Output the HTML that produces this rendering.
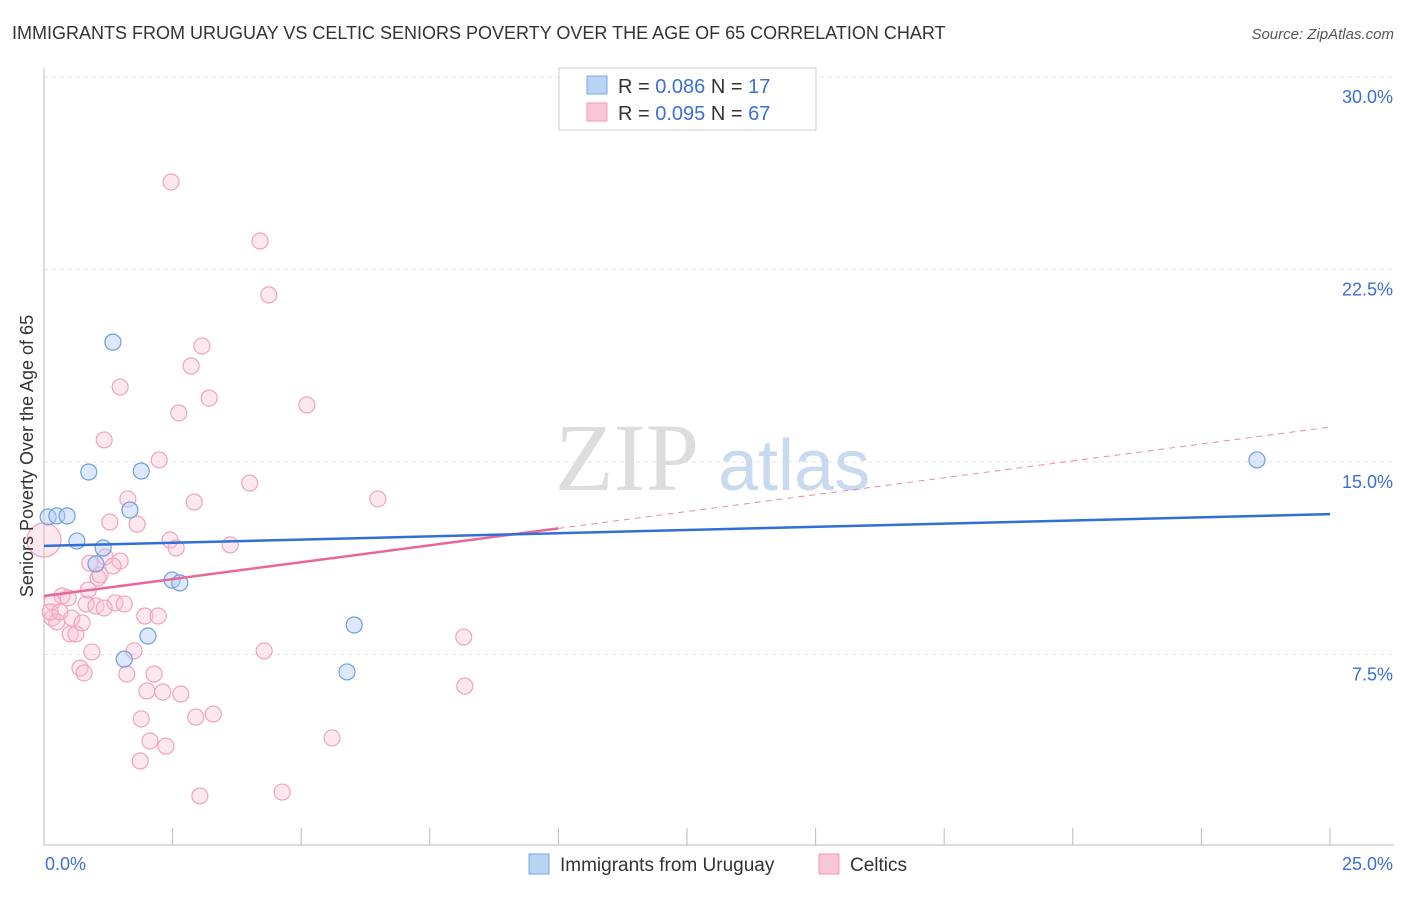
<!DOCTYPE html>
<html><head><meta charset="utf-8">
<style>
body{margin:0;background:#fff;font-family:"Liberation Sans",sans-serif;}
</style></head>
<body>
<svg id="chart" width="1406" height="892" xmlns="http://www.w3.org/2000/svg" font-family="Liberation Sans, sans-serif">
<text x="12" y="39" font-size="18" fill="#333">IMMIGRANTS FROM URUGUAY VS CELTIC SENIORS POVERTY OVER THE AGE OF 65 CORRELATION CHART</text>
<text x="1394" y="39" font-size="15" fill="#555" text-anchor="end" font-style="italic">Source: ZipAtlas.com</text>
<g id="grid"></g>
<g><text x="555" y="490" font-size="96" fill="#ddd" font-family="Liberation Serif, serif">ZIP</text><text x="718" y="490" font-size="72" fill="#c9d9ef">atlas</text></g>
<g id="axes"></g>
<g id="marks"></g>
<text transform="translate(33,456) rotate(-90)" font-size="18" fill="#333" text-anchor="middle">Seniors Poverty Over the Age of 65</text>
<g>
<rect x="559" y="68" width="257" height="62" fill="#fff" stroke="#ccc"/>
<rect x="587" y="76" width="20" height="18" fill="#b9d3f5" stroke="#7aa6e6"/>
<rect x="587" y="103" width="20" height="18" fill="#f9c6d6" stroke="#ee9ab5"/>
<text x="618" y="93" font-size="20" fill="#333">R = <tspan fill="#3b6fd3">0.086</tspan>   N = <tspan fill="#3b6fd3">17</tspan></text>
<text x="618" y="120" font-size="20" fill="#333">R = <tspan fill="#3b6fd3">0.095</tspan>   N = <tspan fill="#3b6fd3">67</tspan></text>
</g>
<g>
<rect x="529" y="854" width="20" height="20" fill="#b9d3f5" stroke="#7aa6e6"/>
<text x="560" y="871" font-size="19" fill="#333">Immigrants from Uruguay</text>
<rect x="819" y="854" width="20" height="20" fill="#f9c6d6" stroke="#ee9ab5"/>
<text x="850" y="871" font-size="19" fill="#333">Celtics</text>
</g>
</svg>
<script>
const yTicks=[7.5,15,22.5,30];
const yTickLabels=["7.5%","15.0%","22.5%","30.0%"];
const xTickValues=[0,2.5,5,7.5,10,12.5,15,17.5,20,22.5,25];
const blueX=[0.08,0.25,0.45,0.64,0.87,1.01,1.15,1.34,1.67,1.89,2.02,1.56,2.49,2.64,6.03,5.89,23.58];
const blueY=[12.86,12.90,12.90,11.92,14.61,11.03,11.65,19.67,13.13,14.65,8.22,7.32,10.40,10.29,8.65,6.82,15.08];
const pinkX=[2.47,4.20,4.37,3.07,2.86,1.48,3.21,2.62,5.11,1.17,2.24,4.00,6.49,1.63,2.92,1.28,1.81,2.45,2.57,3.62,1.19,1.48,1.34,0.89,1.05,1.09,0.35,0.16,0.47,0.82,1.01,1.38,1.56,1.96,2.22,0.16,0.25,0.54,0.74,0.51,0.62,0.93,1.75,4.28,8.16,0.70,0.78,1.61,2.14,2.00,2.31,2.66,8.18,1.89,2.95,3.29,2.06,2.37,5.60,1.87,3.03,4.63,0.12,0.31,0.86,1.17,0];
const pinkY=[25.91,23.61,21.51,19.52,18.74,17.92,17.49,16.91,17.22,15.86,15.08,14.18,13.56,13.56,13.44,12.66,12.58,11.96,11.65,11.77,11.30,11.14,10.95,11.06,10.48,10.60,9.78,9.55,9.70,9.47,9.39,9.51,9.47,9.00,9.00,8.92,8.77,8.92,8.73,8.30,8.30,7.60,7.64,7.64,8.18,6.97,6.78,6.74,6.74,6.08,6.04,5.96,6.27,4.99,5.06,5.18,4.13,3.93,4.25,3.35,1.99,2.14,9.16,9.16,10.01,9.31,11.96];
const blueTrend=[11.73,12.97];
const pinkTrend=[9.78,16.36];
const pinkSolidEnd=10;
const NS="http://www.w3.org/2000/svg";
const X0=44,X1=1330,Y0=847,YPER=192.5/7.5;
function sx(v){return X0+(v/25)*(X1-X0);}
function sy(v){return Y0-v*YPER;}
function mk(tag,attrs,parent){const e=document.createElementNS(NS,tag);for(const k in attrs)e.setAttribute(k,attrs[k]);parent.appendChild(e);return e;}
const grid=document.getElementById('grid'),axes=document.getElementById('axes'),marks=document.getElementById('marks');
yTicks.forEach((t,i)=>{
 const l=mk('line',{x1:X0,x2:1394,y1:sy(t),y2:sy(t),stroke:'#e3e3e3','stroke-dasharray':'4,4'},grid);
 
 
 const tx=mk('text',{x:1393,y:sy(t)+26,'font-size':18,fill:'#3b6fd3','text-anchor':'end'},axes);
 tx.textContent=yTickLabels[i];
 
 
});
const ax=mk('line',{x1:X0,x2:X0,y1:68,y2:845,stroke:'#bbb'},axes);


const bx=mk('line',{x1:X0,x2:1394,y1:845,y2:845,stroke:'#bbb'},axes);


xTickValues.forEach(v=>{
 const t=mk('line',{x1:sx(v),x2:sx(v),y1:828,y2:845,stroke:'#bbb'},axes);
 
 
});
const xl0=mk('text',{x:45,y:870,'font-size':18,fill:'#3b6fd3'},axes);xl0.textContent='0.0%';


const xl1=mk('text',{x:1393,y:870,'font-size':18,fill:'#3b6fd3','text-anchor':'end'},axes);xl1.textContent='25.0%';


pinkX.forEach((x,i)=>{
 const big=(x===0);
 const c=mk('circle',{cx:sx(x),cy:sy(pinkY[i]),r:big?17:8,fill:'rgba(248,190,210,0.35)',stroke:'#efa3bd','stroke-width':1.2},marks);
 
 
});
blueX.forEach((x,i)=>{
 const c=mk('circle',{cx:sx(x),cy:sy(blueY[i]),r:8,fill:'rgba(180,205,245,0.45)',stroke:'#6f9ee2','stroke-width':1.2},marks);
 
 
});
const pm=pinkTrend[0]+(pinkTrend[1]-pinkTrend[0])*pinkSolidEnd/25;
const pd=mk('line',{x1:sx(pinkSolidEnd),y1:sy(pm),x2:sx(25),y2:sy(pinkTrend[1]),stroke:'#e88aab','stroke-width':1,'stroke-dasharray':'6,5'},marks);


const ps=mk('line',{x1:sx(0),y1:sy(pinkTrend[0]),x2:sx(pinkSolidEnd),y2:sy(pm),stroke:'#e8669a','stroke-width':2.5},marks);


const bl=mk('line',{x1:sx(0),y1:sy(blueTrend[0]),x2:sx(25),y2:sy(blueTrend[1]),stroke:'#2f6fd6','stroke-width':2.5},marks);


</script>
</body></html>
